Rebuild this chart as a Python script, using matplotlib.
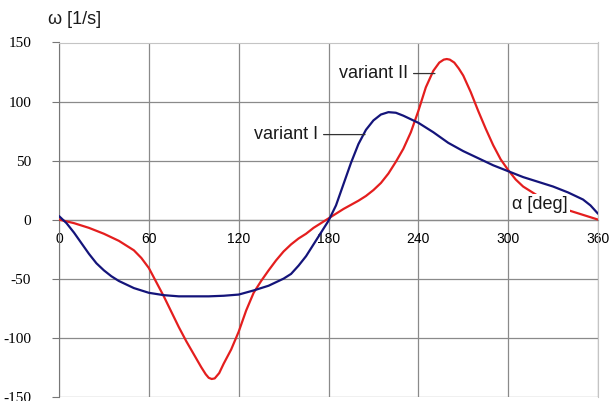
import matplotlib
matplotlib.use("Agg")
import matplotlib.pyplot as plt

plt.rcParams["axes.unicode_minus"] = False

# angle [deg] and angular velocity [1/s]
alpha_1 = [0, 5, 10, 15, 20, 25, 30, 35, 40, 45, 50, 55, 60, 70, 80, 90, 100, 110, 120,
           130, 140, 150, 155, 160, 165, 170, 175, 180, 185, 190, 195, 200, 205, 210,
           215, 220, 225, 230, 235, 240, 250, 260, 270, 280, 290, 300, 310, 320, 330,
           340, 345, 350, 355, 360]
omega_1 = [3, -3, -11, -20, -29, -37, -43, -48, -52, -55, -58, -60, -62, -64, -65, -65, -65,
           -64.5, -63.5, -60, -56, -50, -46, -39, -31, -21, -11, -1, 12, 30, 48, 64, 76, 84,
           89, 91, 90.5, 88, 85, 82, 74, 65, 58, 52, 46, 41, 36, 32, 28, 23, 20, 17, 12, 5]

alpha_2 = [0, 10, 20, 30, 40, 45, 50, 55, 60, 65, 70, 75, 80, 85, 90, 95, 98, 100, 102,
           104, 107, 110, 115, 120, 125, 130, 135, 140, 145, 150, 155, 160, 165, 170, 175,
           180, 190, 200, 205, 210, 215, 220, 225, 230, 235, 240, 245, 250, 254, 257, 259,
           261, 264, 267, 270, 275, 280, 285, 290, 295, 300, 305, 310, 315, 320, 325, 330,
           335, 340, 350, 360]
omega_2 = [0, -3, -7, -12, -18, -22, -26, -32.5, -41, -53, -65, -78, -91, -103, -114, -125,
           -131, -134, -135, -134.5, -130, -122, -110, -95, -77, -62, -52, -43, -34.5, -27,
           -21, -16, -12, -7, -3, 1, 9, 16, 20, 25, 31, 39, 49, 60, 74, 92, 112, 126, 133,
           135.5, 136, 135.5, 133, 128, 122, 108, 92, 77, 63, 51, 42, 34, 28, 24, 20, 16,
           13, 11, 8, 4, 0]

x_ticks = [0, 60, 120, 180, 240, 300, 360]
y_ticks = [-150, -100, -50, 0, 50, 100, 150]

W, H = 610, 401
fig = plt.figure(figsize=(W / 100, H / 100), dpi=100)
ax = fig.add_axes([59 / W, 1 - 396.7 / H, (598 - 59) / W, (396.7 - 42.5) / H])

grid_c = "#8a8a8a"
ax.plot(alpha_2, omega_2, color="#e41e1e", lw=1.6, zorder=3,
        solid_joinstyle="round", solid_capstyle="round")
ax.plot(alpha_1, omega_1, color="#14147a", lw=1.6, zorder=5,
        solid_joinstyle="round", solid_capstyle="round")

ax.set_xlim(0, 360)
ax.set_ylim(-150, 150)
ax.set_xticks(x_ticks)
ax.set_yticks(y_ticks)
ax.grid(True, color=grid_c, lw=0.9)
ax.set_axisbelow(True)

for s in ["top", "right"]:
    ax.spines[s].set_color("#c4c4c4")
ax.spines["left"].set_color("#777777")
ax.spines["bottom"].set_position(("data", 0))
ax.spines["bottom"].set_color(grid_c)
ax.spines["bottom"].set_linewidth(0.9)

ax.tick_params(axis="x", length=0, pad=9, labelsize=10)
ax.tick_params(axis="y", length=5, pad=15, color="#777777", labelsize=11)
for lab in ax.get_xticklabels():
    lab.set_fontfamily("Liberation Sans")
for lab in ax.get_yticklabels():
    lab.set_fontfamily("Liberation Serif")

lbl = dict(fontsize=13, family="Liberation Sans", color="#1a1a1a")
ax.annotate("variant I", xy=(204.4, 72), xytext=(173, 72), ha="right", va="center",
            arrowprops=dict(arrowstyle="-", color="#333333", lw=0.9,
                            shrinkA=2, shrinkB=0, relpos=(1, 0.5)), zorder=6, **lbl)
ax.annotate("variant II", xy=(251.1, 123.7), xytext=(233.1, 123.7), ha="right", va="center",
            arrowprops=dict(arrowstyle="-", color="#333333", lw=0.9,
                            shrinkA=2, shrinkB=0, relpos=(1, 0.5)), zorder=6, **lbl)
ax.text(302.4, 12.5, "α [deg]", ha="left", va="center", zorder=4,
        bbox=dict(facecolor="white", edgecolor="none", pad=1.5), **lbl)

fig.text(48 / W, 1 - 20 / H, "ω [1/s]", ha="left", va="center", **lbl)

fig.savefig("out.png", dpi=100)
